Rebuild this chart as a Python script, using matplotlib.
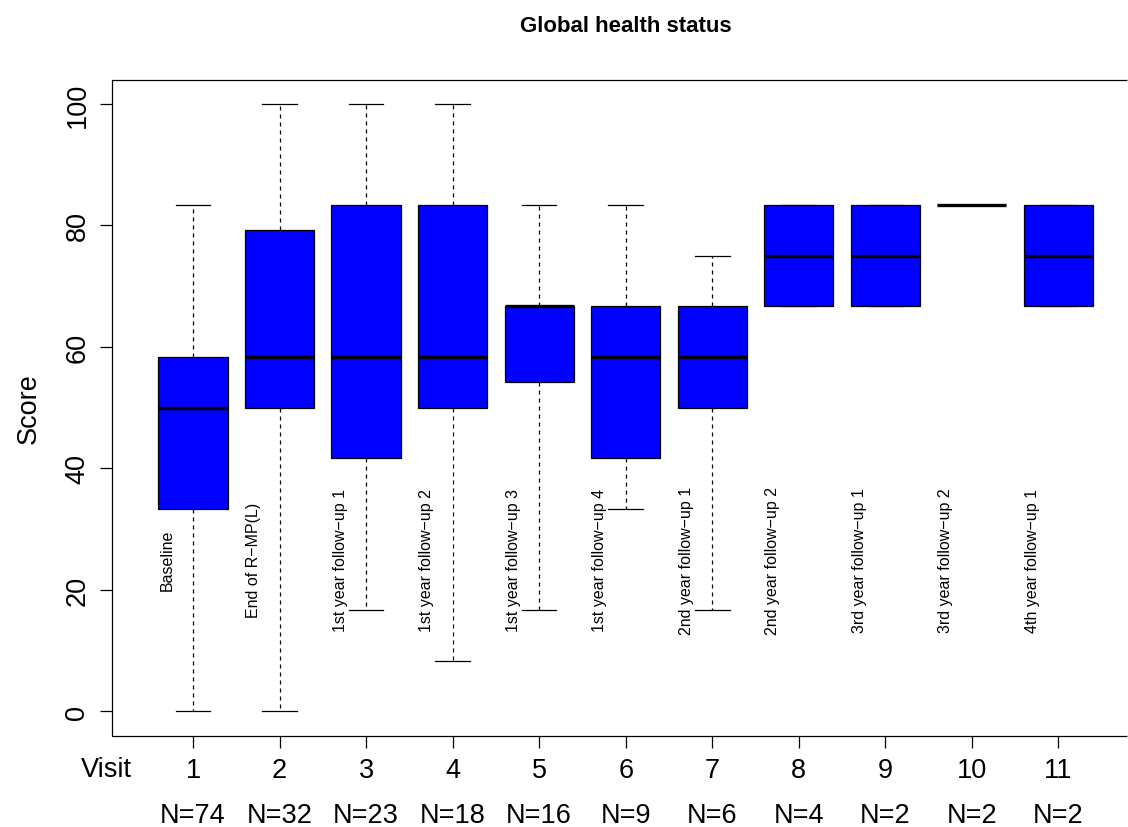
"""
Boxplot de Global health status por visita (estilo R base).
"""
import matplotlib
matplotlib.use('Agg')
import matplotlib.pyplot as plt

plt.rcParams['font.family'] = ['Liberation Sans', 'DejaVu Sans']

# --- datos ---
visits = [1, 2, 3, 4, 5, 6, 7, 8, 9, 10, 11]
visit_names = ['Baseline', 'End of R\u2212MP(L)',
               '1st year follow\u2212up 1', '1st year follow\u2212up 2',
               '1st year follow\u2212up 3', '1st year follow\u2212up 4',
               '2nd year follow\u2212up 1', '2nd year follow\u2212up 2',
               '3rd year follow\u2212up 1', '3rd year follow\u2212up 2',
               '4th year follow\u2212up 1']
n_per_visit = [74, 32, 23, 18, 16, 9, 6, 4, 2, 2, 2]
whis_lo = [0.0, 0.0, 16.7, 8.3, 16.7, 33.3, 16.7, 66.7, 66.7, 83.3, 66.7]
q1 = [33.3, 50.0, 41.7, 50.0, 54.2, 41.7, 50.0, 66.7, 66.7, 83.3, 66.7]
median = [50.0, 58.3, 58.3, 58.3, 66.7, 58.3, 58.3, 75.0, 75.0, 83.3, 75.0]
q3 = [58.3, 79.2, 83.3, 83.3, 66.7, 66.7, 66.7, 83.3, 83.3, 83.3, 83.3]
whis_hi = [83.3, 100.0, 100.0, 100.0, 83.3, 83.3, 75.0, 83.3, 83.3, 83.3, 83.3]
y_ticks = [0, 20, 40, 60, 80, 100]

stats = [dict(med=m, q1=a, q3=b, whislo=lo, whishi=hi, label=str(v))
         for v, lo, a, m, b, hi in zip(visits, whis_lo, q1, median, q3, whis_hi)]

W, H = 1128, 828
left_px, right_px = 111.7, 1100
px_per_unit = 1028 / 11.88  # escala de R: xlim 0.06..11.94 en 1028 px
fig = plt.figure(figsize=(W / 100, H / 100), dpi=100)
ax = fig.add_axes([left_px / W, 1 - 736.7 / H, (right_px - left_px) / W, 656 / H])

lw = 0.9
ax.bxp(stats, positions=visits, widths=0.8, capwidths=0.4,
       showfliers=False, patch_artist=True,
       boxprops=dict(facecolor='#0000FF', edgecolor='black', linewidth=lw),
       medianprops=dict(color='black', linewidth=2.4, solid_capstyle='butt'),
       whiskerprops=dict(color='black', linewidth=lw, linestyle=(0, (3.2, 3.2))),
       capprops=dict(color='black', linewidth=lw))

ax.set_xlim(0.06, 0.06 + (right_px - left_px) / px_per_unit)
ax.set_ylim(-4, 104)

# etiquetas de visita dentro del panel
for v, name in zip(visits, visit_names):
    ax.text(v - 0.3, 25, name, rotation=90, ha='center', va='center',
            fontsize=11.5)

ax.set_xticks(visits, [str(v) for v in visits])
ax.set_yticks(y_ticks, [str(t) for t in y_ticks])
ax.tick_params(axis='both', length=8.6, width=lw, labelsize=19.5)
ax.tick_params(axis='x', pad=7)
ax.tick_params(axis='y', pad=6.7)
for lab in ax.get_yticklabels():
    lab.set_rotation(90)
    lab.set_va('center')

# marco estilo R: abierto por la derecha, llega casi al borde de la figura
for sp in ax.spines.values():
    sp.set_visible(False)
x_end = (W - 1.5 - left_px) / (right_px - left_px)
ax.plot([x_end, 0, 0, x_end], [0, 0, 1, 1], transform=ax.transAxes,
        color='black', lw=lw, clip_on=False, solid_joinstyle='miter',
        solid_capstyle='butt')

xt = ax.get_xaxis_transform()
ax.text(0, -0.061, 'Visit', transform=xt, ha='center', va='baseline',
        fontsize=19.5, clip_on=False)
for v, n in zip(visits, n_per_visit):
    ax.text(v, -0.1316, f'N={n}', transform=xt, ha='center', va='baseline',
            fontsize=19.5, clip_on=False)

ax.set_ylabel('Score', fontsize=19.5, va='center')
ax.yaxis.set_label_coords(-83 / (right_px - left_px), 0.5)

fig.text(625.5 / W, 1 - 31.7 / H, 'Global health status', ha='center',
         va='baseline', fontsize=16, fontweight='bold')

fig.savefig('out.png', dpi=100)
